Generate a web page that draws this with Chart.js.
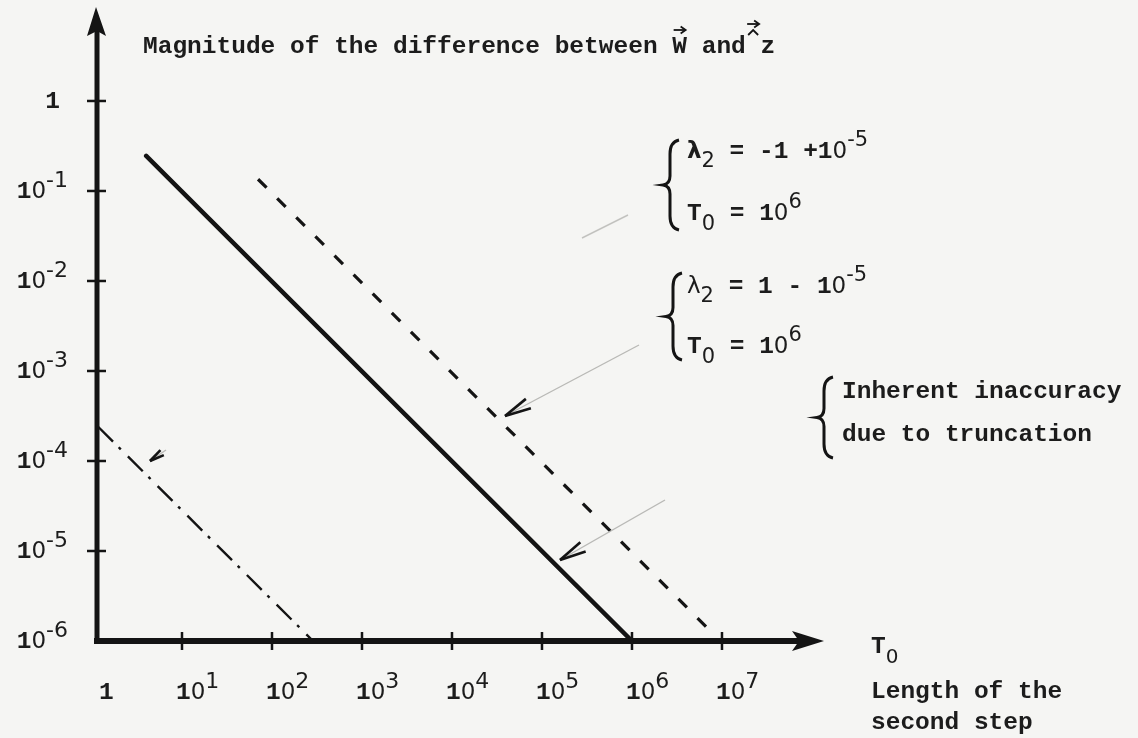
<!DOCTYPE html>
<html>
<head>
<meta charset="utf-8">
<script src="https://cdn.jsdelivr.net/npm/chart.js@4.4.1/dist/chart.umd.min.js"></script>
<style>
    html, body { margin: 0; padding: 0; background: #f5f5f3; }
    #grafico { display: block; }
</style>
</head>
<body>
<canvas id="grafico" width="1138" height="738"></canvas>
<script>
// eixos (log-log)
var xTicks = [1, 1e1, 1e2, 1e3, 1e4, 1e5, 1e6, 1e7];
var xExpoentes = ['', '1', '2', '3', '4', '5', '6', '7'];
var yTicks = [1, 1e-1, 1e-2, 1e-3, 1e-4, 1e-5, 1e-6];
var yExpoentes = ['', '-1', '-2', '-3', '-4', '-5', '-6'];
var xMin = 1, xMax = 1.36e8;
var yMin = 1e-6, yMax = 11.07;

// curvas: T0 (comprimento do segundo passo) x erro
var cheiaT0 = [4.0, 1e6];
var cheiaErro = [0.245, 1e-6];
var tracejadaT0 = [70, 7.4e6];
var tracejadaErro = [0.135, 1.3e-6];
var tracoPontoT0 = [1.17, 286];
var tracoPontoErro = [2.4e-4, 1e-6];

var PRETO = '#141414';
var MONO = '"Liberation Mono", "DejaVu Sans Mono", monospace';
var SANS = '"DejaVu Sans", "Liberation Sans", sans-serif';

function pontos(xs, ys) {
    return xs.map(function(x, i) { return { x: x, y: ys[i] }; });
}

// escreve pedacos de texto em sequencia: [texto, fonte, deslocamento vertical]
function escreve(ctx, partes, x, y) {
    partes.forEach(function(p) {
        ctx.font = p[1];
        ctx.fillText(p[0], x, y + (p[2] || 0));
        x += ctx.measureText(p[0]).width;
    });
    return x;
}

function largura(ctx, partes) {
    var w = 0;
    partes.forEach(function(p) { ctx.font = p[1]; w += ctx.measureText(p[0]).width; });
    return w;
}

function rotuloPotencia(expoente) {
    if (!expoente) return [['1', 'bold 24.5px ' + MONO, 0]];
    return [
        ['1', 'bold 24.5px ' + MONO, 0],
        ['0', '23px ' + SANS, 0],
        [expoente, '22px ' + SANS, -11]
    ];
}

function chave(ctx, x, y1, y2) {
    var m = (y1 + y2) / 2;
    ctx.beginPath();
    ctx.moveTo(x + 9, y1);
    ctx.quadraticCurveTo(x, y1 + 2, x, y1 + 14);
    ctx.lineTo(x, m - 9);
    ctx.quadraticCurveTo(x, m - 1, x - 7, m);
    ctx.quadraticCurveTo(x, m + 1, x, m + 9);
    ctx.lineTo(x, y2 - 14);
    ctx.quadraticCurveTo(x, y2 - 2, x + 9, y2);
    ctx.stroke();
}

function seta(ctx, xp, yp, xc, yc, comprimento) {
    var ang = Math.atan2(yc - yp, xc - xp);
    ctx.strokeStyle = '#b9b9b6';
    ctx.lineWidth = 1.4;
    ctx.beginPath(); ctx.moveTo(xp, yp); ctx.lineTo(xc, yc); ctx.stroke();
    ctx.strokeStyle = PRETO;
    ctx.lineWidth = 2.6;
    [-0.2, 0.2].forEach(function(d) {
        ctx.beginPath();
        ctx.moveTo(xp, yp);
        ctx.lineTo(xp + comprimento * Math.cos(ang + d), yp + comprimento * Math.sin(ang + d));
        ctx.stroke();
    });
}

// pequena seta de vetor sobre uma letra
function vetor(ctx, xc, y) {
    ctx.beginPath(); ctx.moveTo(xc - 6, y); ctx.lineTo(xc + 5, y); ctx.stroke();
    ctx.beginPath(); ctx.moveTo(xc + 1, y - 3.5); ctx.lineTo(xc + 6, y); ctx.lineTo(xc + 1, y + 3.5); ctx.stroke();
}

var fundoPlugin = {
    id: 'fundo',
    beforeDraw: function(chart) {
        var ctx = chart.ctx;
        ctx.save();
        ctx.fillStyle = '#f5f5f3';
        ctx.fillRect(0, 0, chart.width, chart.height);
        ctx.restore();
    }
};

var eixosPlugin = {
    id: 'eixos',
    afterDraw: function(chart) {
        var ctx = chart.ctx;
        var ca = chart.chartArea;
        var sx = chart.scales.x, sy = chart.scales.y;
        var x0 = ca.left + 5;
        var yb = sy.getPixelForValue(yMin);
        ctx.save();
        ctx.strokeStyle = PRETO;
        ctx.fillStyle = PRETO;
        ctx.lineCap = 'butt';

        // eixo vertical com seta
        ctx.lineWidth = 5;
        ctx.beginPath(); ctx.moveTo(x0, yb + 3); ctx.lineTo(x0, ca.top + 24); ctx.stroke();
        ctx.beginPath();
        ctx.moveTo(x0 - 1, ca.top);
        ctx.lineTo(x0 - 10, ca.top + 29);
        ctx.lineTo(x0, ca.top + 24);
        ctx.lineTo(x0 + 9, ca.top + 29);
        ctx.closePath(); ctx.fill();

        // eixo horizontal com seta
        ctx.lineWidth = 6;
        ctx.beginPath(); ctx.moveTo(x0 - 3, yb); ctx.lineTo(ca.right - 24, yb); ctx.stroke();
        ctx.beginPath();
        ctx.moveTo(ca.right, yb);
        ctx.lineTo(ca.right - 32, yb - 10);
        ctx.lineTo(ca.right - 25, yb);
        ctx.lineTo(ca.right - 32, yb + 10);
        ctx.closePath(); ctx.fill();

        // marcas
        ctx.lineWidth = 2.5;
        xTicks.forEach(function(v, i) {
            if (i === 0) return;
            var px = sx.getPixelForValue(v);
            ctx.beginPath(); ctx.moveTo(px, yb - 9); ctx.lineTo(px, yb + 9); ctx.stroke();
        });
        yTicks.forEach(function(v, i) {
            if (i === yTicks.length - 1) return;
            var py = sy.getPixelForValue(v);
            ctx.beginPath(); ctx.moveTo(x0 - 10, py); ctx.lineTo(x0 + 9, py); ctx.stroke();
        });

        // rotulos
        ctx.fillStyle = '#1c1c1c';
        ctx.textBaseline = 'middle';
        ctx.textAlign = 'left';
        yTicks.forEach(function(v, i) {
            var partes = rotuloPotencia(yExpoentes[i]);
            var py = sy.getPixelForValue(v);
            var direita = yExpoentes[i] ? 68 : 60;
            escreve(ctx, partes, direita - largura(ctx, partes), py + 1);
        });
        xTicks.forEach(function(v, i) {
            var partes = rotuloPotencia(xExpoentes[i]);
            var px = i === 0 ? x0 + 2 : sx.getPixelForValue(v) - 6;
            escreve(ctx, partes, px, yb + 52);
        });

        escreve(ctx, [['T', 'bold 24.5px ' + MONO, 0], ['0', '20px ' + SANS, 11]], 871, yb + 6);
        ctx.font = 'bold 24.5px ' + MONO;
        ctx.fillText('Length of the', 871, yb + 51);
        ctx.fillText('second step', 871, yb + 82);

        // titulo do eixo vertical
        var titulo = 'Magnitude of the difference between W and z';
        ctx.fillText(titulo, 143, 47);
        var passo = ctx.measureText('M').width;
        var xW = 143 + passo * 36.5, xZ = 143 + passo * 41.5;
        ctx.lineWidth = 1.8;
        vetor(ctx, xW, 30);
        vetor(ctx, xZ, 24);
        ctx.beginPath(); ctx.moveTo(xZ - 5, 35); ctx.lineTo(xZ, 30); ctx.lineTo(xZ + 5, 35); ctx.stroke();
        ctx.restore();
    }
};

var anotacoesPlugin = {
    id: 'anotacoes',
    afterDraw: function(chart) {
        var ctx = chart.ctx;
        ctx.save();
        ctx.fillStyle = '#1c1c1c';
        ctx.strokeStyle = PRETO;
        ctx.textBaseline = 'middle';
        ctx.textAlign = 'left';
        var mono = 'bold 24.5px ' + MONO;
        var sub = '21px ' + SANS;

        ctx.lineWidth = 3;
        chave(ctx, 670, 140, 230);
        escreve(ctx, [['λ', 'bold 23px ' + SANS, 0], ['2', sub, 10], [' = -1 +1', mono, 0],
            ['0', '23px ' + SANS, 0], ['-5', sub, -11]], 687, 152);
        escreve(ctx, [['T', mono, 0], ['0', sub, 11], [' = 1', mono, 0],
            ['0', '23px ' + SANS, 0], ['6', sub, -11]], 687, 214);

        chave(ctx, 673, 273, 360);
        escreve(ctx, [['λ', '23px ' + SANS, 0], ['2', sub, 10], [' = 1 - 1', mono, 0],
            ['0', '23px ' + SANS, 0], ['-5', sub, -11]], 687, 287);
        escreve(ctx, [['T', mono, 0], ['0', sub, 11], [' = 1', mono, 0],
            ['0', '23px ' + SANS, 0], ['6', sub, -11]], 687, 347);

        chave(ctx, 824, 377, 458);
        ctx.font = mono;
        ctx.fillText('Inherent inaccuracy', 842, 392);
        ctx.fillText('due to truncation', 842, 435);

        // setas de chamada
        ctx.strokeStyle = '#c2c2bf';
        ctx.lineWidth = 1.4;
        ctx.beginPath(); ctx.moveTo(582, 238); ctx.lineTo(628, 215); ctx.stroke();
        seta(ctx, 505, 416, 639, 345, 27);
        seta(ctx, 560, 560, 665, 500, 27);
        seta(ctx, 150, 461, 166, 450, 15);
        ctx.restore();
    }
};

var canvas = document.getElementById('grafico');
new Chart(canvas.getContext('2d'), {
    type: 'line',
    data: {
        datasets: [
            {
                label: 'lambda2 = 1 - 10^-5',
                data: pontos(cheiaT0, cheiaErro),
                borderColor: PRETO, borderWidth: 4.5, pointRadius: 0, borderCapStyle: 'round'
            },
            {
                label: 'lambda2 = -1 + 10^-5',
                data: pontos(tracejadaT0, tracejadaErro),
                borderColor: PRETO, borderWidth: 3.2, borderDash: [12, 15], pointRadius: 0
            },
            {
                label: 'Inherent inaccuracy',
                data: pontos(tracoPontoT0, tracoPontoErro),
                borderColor: PRETO, borderWidth: 2.4, borderDash: [21, 8, 3, 10], pointRadius: 0
            }
        ]
    },
    options: {
        responsive: false,
        animation: false,
        devicePixelRatio: 1,
        layout: { padding: { left: 92, top: 7, right: 1138 - 824, bottom: 738 - 641 } },
        scales: {
            x: { type: 'logarithmic', min: xMin, max: xMax, display: false },
            y: { type: 'logarithmic', min: yMin, max: yMax, display: false }
        },
        plugins: { legend: { display: false }, tooltip: { enabled: false } }
    },
    plugins: [fundoPlugin, eixosPlugin, anotacoesPlugin]
});
</script>
</body>
</html>
